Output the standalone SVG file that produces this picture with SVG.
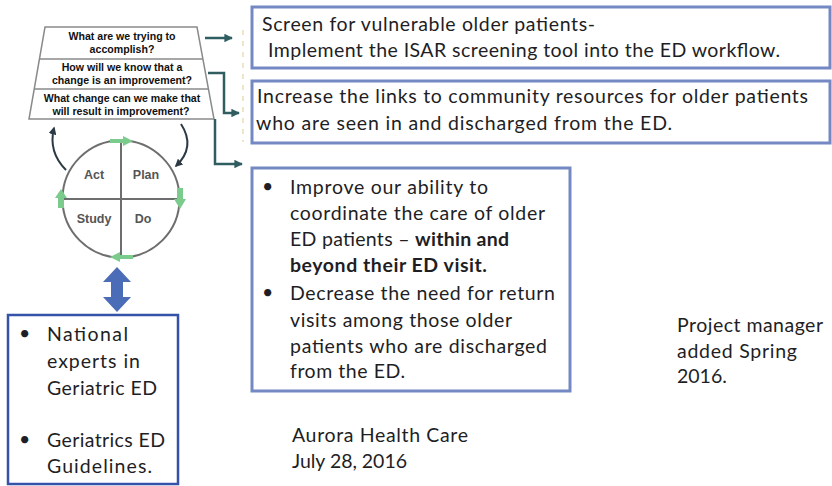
<svg xmlns="http://www.w3.org/2000/svg" width="832" height="486" viewBox="0 0 832 486">
  <style>
    .q { font-family: "Liberation Sans", Arial, sans-serif; font-weight: bold; font-size: 10.6px; fill: #111; text-anchor: middle; }
    .pd { font-family: "Liberation Sans", Arial, sans-serif; font-weight: bold; font-size: 12.5px; fill: #555; text-anchor: middle; }
    .t { font-family: Lato, "Liberation Sans", sans-serif; font-size: 19.5px; fill: #1e1e24; }
    .b { font-weight: bold; }
    .box { fill: #fff; stroke: #7489c4; stroke-width: 3; }
    .box2 { fill: #fff; stroke: #3452a8; stroke-width: 2.5; }
    .conn { fill: none; stroke: #2f5d60; stroke-width: 2.5; }
    .cyc { fill: none; stroke: #2b3a44; stroke-width: 2; }
    .grn { fill: #7bcb8c; }
  </style>
  <defs>
    <marker id="tealHead" viewBox="0 0 10 10" refX="9" refY="5" markerWidth="3.4" markerHeight="3.4" orient="auto" markerUnits="strokeWidth">
      <path d="M0,0 L10,5 L0,10 z" fill="#2f5d60"/>
    </marker>
    <marker id="darkHead" viewBox="0 0 10 10" refX="8" refY="5" markerWidth="4" markerHeight="4" orient="auto" markerUnits="strokeWidth">
      <path d="M0,0 L10,5 L0,10 z" fill="#2b3a44"/>
    </marker>
  </defs>

  <rect width="832" height="486" fill="#ffffff"/>

  <!-- Model for Improvement: the three questions -->
  <g id="questions">
    <path d="M45,27 L197,27 L214,119 L29,119 Z" fill="#fff" stroke="#8a8a8a" stroke-width="1.5"/>
    <line x1="39.4" y1="59" x2="202.9" y2="59" stroke="#8a8a8a" stroke-width="1.5"/>
    <line x1="34.2" y1="89" x2="208.5" y2="89" stroke="#8a8a8a" stroke-width="1.5"/>
    <text class="q" x="122" y="40">What are we trying to</text>
    <text class="q" x="122" y="53">accomplish?</text>
    <text class="q" x="122" y="71">How will we know that a</text>
    <text class="q" x="122" y="84">change is an improvement?</text>
    <text class="q" x="122" y="102">What change can we make that</text>
    <text class="q" x="121" y="115">will result in improvement?</text>
  </g>

  <!-- PDCA cycle -->
  <g id="pdca">
    <circle cx="121" cy="199" r="58.5" fill="#fff" stroke="#6e6e6e" stroke-width="2"/>
    <line x1="121" y1="141" x2="121" y2="257" stroke="#6e6e6e" stroke-width="2"/>
    <line x1="63" y1="199" x2="179" y2="199" stroke="#6e6e6e" stroke-width="2"/>
    <polygon class="grn" points="110,139 123,139 123,136 133,141 123,146 123,143 110,143"/>
    <polygon class="grn" points="177,188 177,199 174,199 180,209 186,199 183,199 183,188"/>
    <polygon class="grn" points="133,255 120,255 120,252 110,257 120,262 120,259 133,259"/>
    <polygon class="grn" points="58,208 58,198 55,198 61,189 67,198 64,198 64,208"/>
    <text class="pd" x="94" y="179">Act</text>
    <text class="pd" x="146" y="179">Plan</text>
    <text class="pd" x="94" y="223">Study</text>
    <text class="pd" x="143" y="223">Do</text>
    <path class="cyc" d="M66,170 Q48,152 54,128" marker-end="url(#darkHead)"/>
    <path class="cyc" d="M181,124 Q196,147 176,166" marker-end="url(#darkHead)"/>
  </g>

  <!-- two-way link to the resources box -->
  <g id="link">
    <polygon points="117,267 131,282 123,282 123,297 131,297 117,312 103,297 111,297 111,282 103,282" fill="#4b6cb7"/>
  </g>

  <!-- connectors from the questions to the aims -->
  <g id="connectors">
    <line x1="243" y1="30" x2="243" y2="142" stroke="#e2d6a6" stroke-width="1.5" stroke-dasharray="5 6" opacity="0.8"/>
    <path class="conn" d="M205,38 L232,38" marker-end="url(#tealHead)"/>
    <path class="conn" d="M208,73 L224,73 L224,113 L239,113" marker-end="url(#tealHead)"/>
    <path class="conn" d="M215,119 L215,164 L242,164" marker-end="url(#tealHead)"/>
  </g>

  <g id="aim-screen">
    <rect class="box" x="252" y="7" width="578" height="61"/>
    <text class="t" x="262" y="31" textLength="333" lengthAdjust="spacing">Screen for vulnerable older patients-</text>
    <text class="t" x="268" y="57" textLength="512" lengthAdjust="spacing">Implement the ISAR screening tool into the ED workflow.</text>
  </g>

  <g id="aim-links">
    <rect class="box" x="252" y="81" width="578" height="62"/>
    <text class="t" x="257" y="103" textLength="551" lengthAdjust="spacing">Increase the links to community resources for older patients</text>
    <text class="t" x="256" y="130" textLength="416" lengthAdjust="spacing">who are seen in and discharged from  the ED.</text>
  </g>

  <g id="aim-coordinate">
    <rect class="box" x="252" y="168" width="318" height="223"/>
    <text class="t" x="262" y="193">•</text>
    <text class="t" x="290" y="194" textLength="198" lengthAdjust="spacing">Improve our ability to</text>
    <text class="t" x="290" y="220" textLength="255" lengthAdjust="spacing">coordinate the care of older</text>
    <text class="t" x="290" y="246" textLength="219" lengthAdjust="spacing">ED patients – <tspan class="b">within and</tspan></text>
    <text class="t b" x="290" y="272" textLength="197" lengthAdjust="spacing">beyond  their ED visit.</text>
    <text class="t" x="262" y="299">•</text>
    <text class="t" x="290" y="300" textLength="265" lengthAdjust="spacing">Decrease the need for return</text>
    <text class="t" x="290" y="327" textLength="222" lengthAdjust="spacing">visits among those older</text>
    <text class="t" x="290" y="353" textLength="257" lengthAdjust="spacing">patients who are discharged</text>
    <text class="t" x="290" y="378" textLength="115" lengthAdjust="spacing">from the ED.</text>
  </g>

  <g id="resources">
    <rect class="box2" x="8" y="315" width="170" height="169"/>
    <text class="t" x="19" y="340">•</text>
    <text class="t" x="47" y="341" textLength="81" lengthAdjust="spacing">National</text>
    <text class="t" x="47" y="368" textLength="93" lengthAdjust="spacing">experts in</text>
    <text class="t" x="47" y="395" textLength="110" lengthAdjust="spacing">Geriatric ED</text>
    <text class="t" x="19" y="446">•</text>
    <text class="t" x="47" y="447" textLength="118" lengthAdjust="spacing">Geriatrics ED</text>
    <text class="t" x="47" y="473" textLength="105" lengthAdjust="spacing">Guidelines.</text>
  </g>

  <g id="org">
    <text class="t" x="292" y="442" textLength="176" lengthAdjust="spacing">Aurora Health Care</text>
    <text class="t" x="292" y="468" textLength="115" lengthAdjust="spacing">July 28, 2016</text>
  </g>

  <g id="note">
    <text class="t" x="677" y="332" textLength="146" lengthAdjust="spacing">Project manager</text>
    <text class="t" x="677" y="358" textLength="120" lengthAdjust="spacing">added Spring</text>
    <text class="t" x="677" y="383">2016.</text>
  </g>
</svg>
